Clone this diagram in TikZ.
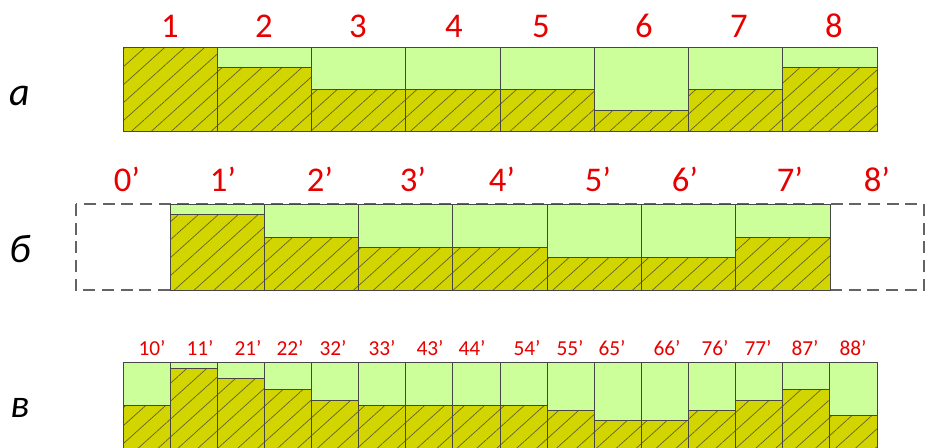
\documentclass[tikz,border=0pt]{standalone}
\usepackage{fontspec}
\setmainfont{Carlito}
\usetikzlibrary{patterns.meta}
\definecolor{lgreen}{RGB}{204,255,153}
\definecolor{olivefill}{RGB}{210,213,0}
\definecolor{hatchc}{RGB}{95,95,35}
\definecolor{edgec}{RGB}{70,70,70}
\definecolor{numred}{RGB}{232,0,0}
\definecolor{dashc}{RGB}{100,100,100}
\tikzset{
  water/.style={fill=lgreen},
  soil/.style={fill=olivefill, postaction={pattern={Lines[angle=42,distance=10pt,line width=0.5pt]}, pattern color=hatchc}},
  edge/.style={draw=edgec, line width=0.7pt},
  dashbox/.style={draw=dashc, line width=1.1pt, dash pattern=on 9pt off 5pt},
  numbig/.style={text=numred, inner sep=0pt, font=\fontsize{26}{30}\selectfont},
  numsmall/.style={text=numred, inner sep=0pt, font=\fontsize{16}{19}\selectfont},
  rowlab/.style={text=black, inner sep=0pt, font=\fontsize{30}{34}\selectfont\itshape},
}
\newcommand{\mycell}[5]{% x0 x1 top level bottom
  \fill[water] (#1,#3) rectangle (#2,#4);
  \path[soil] (#1,#4) rectangle (#2,#5);
  \draw[edge] (#1,#4) -- (#2,#4);
  \draw[edge] (#1,#3) rectangle (#2,#5);
}
\begin{document}
\begin{tikzpicture}[x=0.75pt,y=-0.75pt]
\clip (0,0) rectangle (927,447);
\fill[white] (0,0) rectangle (927,447);

% row a
\foreach \i/\lev in {0/47,1/67.7,2/89,3/89,4/89,5/110,6/89,7/67.7}{
  \pgfmathsetmacro\xa{123+\i*94.25}
  \pgfmathsetmacro\xb{123+(\i+1)*94.25}
  \mycell{\xa}{\xb}{47}{\lev}{131.5}
}
\foreach \t/\x in {1/170,2/264,3/358,4/454,5/541,6/644,7/739,8/834}{
  \node[numbig] (na\t) at (\x,26) {\t};
}
\node[rowlab] (rowa) at (20,96) {а};

% row b
\draw[dashbox] (76,204) rectangle (924,290);
\foreach \i/\lev in {0/214.3,1/237.3,2/247.7,3/247.7,4/257.7,5/257.7,6/237.3}{
  \pgfmathsetmacro\xa{170+\i*94.29}
  \pgfmathsetmacro\xb{170+(\i+1)*94.29}
  \mycell{\xa}{\xb}{204}{\lev}{290}
}
\foreach \t/\x in {0/127,1/223,2/320,3/413,4/502,5/598,6/685,7/790,8/877}{
  \node[numbig] (nb\t) at (\x,179) {\t’};
}
\node[rowlab] (rowb) at (20,249) {б};

% row c
\foreach \i/\lev in {0/405,1/368.3,2/378.3,3/389,4/400,5/405,6/405,7/405,8/405,9/410,10/420.7,11/420.7,12/410,13/400,14/389,15/415.7}{
  \pgfmathsetmacro\xa{123+\i*47.125}
  \pgfmathsetmacro\xb{123+(\i+1)*47.125}
  \mycell{\xa}{\xb}{362.7}{\lev}{460}
}
\foreach \t/\x in {10/152,11/200,21/248,22/290,32/333,33/382,43/430,44/472,54/527,55/570,65/612,66/667,76/715,77/758,87/805,88/853}{
  \node[numsmall] (nc\t) at (\x,348) {\t’};
}
\node[rowlab] (rowc) at (20,408) {в};
\end{tikzpicture}
\end{document}
